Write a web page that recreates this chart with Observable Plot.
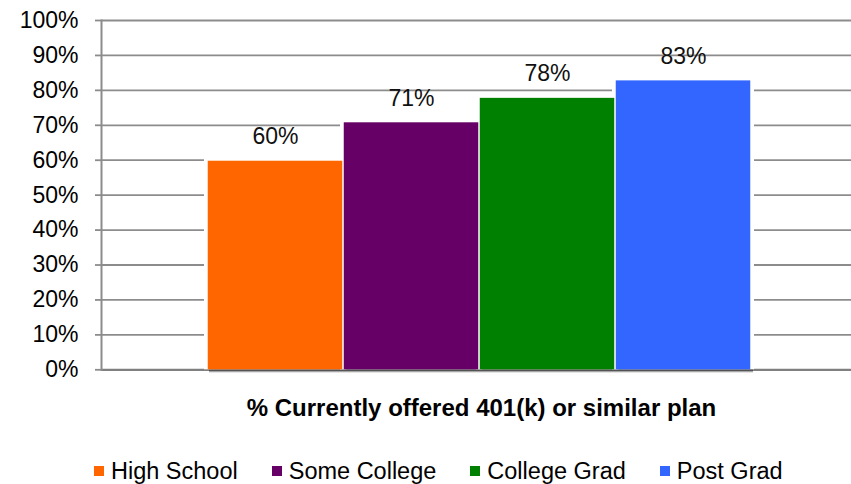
<!DOCTYPE html>
<html>
<head>
<meta charset="utf-8">
<script src="https://cdn.jsdelivr.net/npm/d3@7"></script>
<script src="https://cdn.jsdelivr.net/npm/@observablehq/plot@0.6"></script>
<style>
  body { margin: 0; background: #fff; font-family: "Liberation Sans", Arial, Helvetica, sans-serif; }
  #chart { width: 851px; }
  .legend { height: 30px; line-height: 34px; padding-left: 94px; white-space: nowrap; font-size: 23.5px; color: #000; }
  .legend .item { display: inline-block; margin-right: 34px; }
  .legend .sw { display: inline-block; width: 10px; height: 10px; margin-right: 7px; margin-bottom: 2.6px; vertical-align: baseline; }
</style>
</head>
<body>
<div id="chart"></div>
<script>
// Share of workers currently offered a 401(k) or similar plan, by education
const categories = ["High School", "Some College", "College Grad", "Post Grad"];
const values = [60, 71, 78, 83];
const colors = ["#ff6600", "#660066", "#008000", "#3366ff"];
const yTicks = [0, 10, 20, 30, 40, 50, 60, 70, 80, 90, 100];
const axisTitle = "% Currently offered 401(k) or similar plan";

const data = categories.map((category, i) => ({category, value: values[i]}));
const font = '"Liberation Sans", Arial, Helvetica, sans-serif';

const plot = Plot.plot({
  width: 851,
  height: 454,
  marginLeft: 101,
  marginRight: 0,
  marginTop: 20,
  marginBottom: 84.7,
  style: {fontFamily: font, fontSize: "23px", color: "#000", background: "#fff"},
  x: {domain: categories, range: [205.3, 752.3], padding: 0, axis: null},
  y: {domain: [0, 100], axis: null},
  color: {domain: categories, range: colors},
  marks: [
    Plot.gridY(yTicks, {stroke: "#8c8c8c", strokeOpacity: 1, strokeWidth: 1.8}),
    Plot.axisY(yTicks, {
      tickSize: 6, tickPadding: 17, tickFormat: d => d + "%", label: null,
      stroke: "#8c8c8c", strokeWidth: 1.8, fill: "#000", fontSize: 23
    }),
    Plot.ruleY([0], {stroke: "#808080", strokeWidth: 2.2}),
    Plot.frame({anchor: "left", stroke: "#8c8c8c", strokeWidth: 2}),
    // soft drop shadow behind the columns
    Plot.barY(data, {x: "category", y: "value", fill: "#000", fillOpacity: 0.35, dx: 2, dy: 3, ariaLabel: "bar-shadow"}),
    // white rim around each column
    Plot.barY(data, {x: "category", y: "value", fill: "#fff", insetLeft: -3, insetRight: -3, insetTop: -2}),
    Plot.barY(data, {x: "category", y: "value", fill: "category", insetLeft: 0.75, insetRight: 0.75, insetTop: 1}),
    Plot.text(data, {
      x: "category", y: "value", text: d => d.value + "%",
      lineAnchor: "bottom", dy: -16, fontSize: 23, fill: "#111"
    }),
    Plot.text([axisTitle], {
      frameAnchor: "bottom", lineAnchor: "bottom", dy: 45.7, dx: 5,
      fontSize: 24, fontWeight: "bold", fill: "#000"
    })
  ]
});

// blur filter for the shadow layer
const ns = "http://www.w3.org/2000/svg";
const defs = document.createElementNS(ns, "defs");
defs.innerHTML = '<filter id="barShadow" x="-10%" y="-10%" width="120%" height="120%"><feGaussianBlur stdDeviation="2"/></filter>';
plot.insertBefore(defs, plot.firstChild);
const shadow = plot.querySelector('g[aria-label="bar-shadow"]');
if (shadow) shadow.setAttribute("filter", "url(#barShadow)");

const chart = document.getElementById("chart");
chart.appendChild(plot);

// legend below the chart
const legend = document.createElement("div");
legend.className = "legend";
categories.forEach((c, i) => {
  const item = document.createElement("span");
  item.className = "item";
  const sw = document.createElement("span");
  sw.className = "sw";
  sw.style.background = colors[i];
  item.appendChild(sw);
  item.appendChild(document.createTextNode(c));
  legend.appendChild(item);
});
chart.appendChild(legend);
</script>
</body>
</html>
